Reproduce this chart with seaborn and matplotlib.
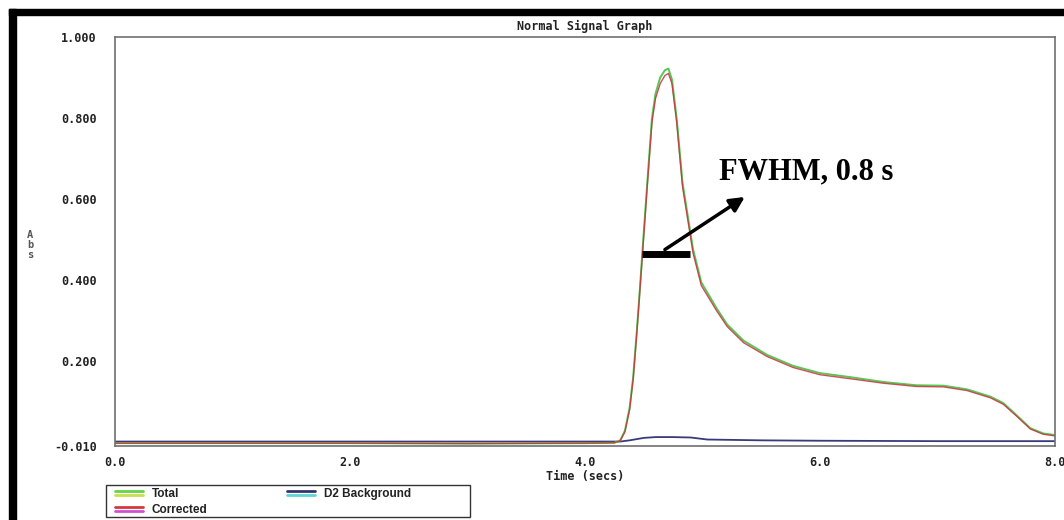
import matplotlib
matplotlib.use("Agg")
import matplotlib.pyplot as plt
from matplotlib.patches import Rectangle
from matplotlib.lines import Line2D
from matplotlib.legend_handler import HandlerBase
import seaborn as sns
import pandas as pd

# ---------------- data ----------------
time_s = [0.0, 1.0, 2.0, 3.0, 4.0, 4.25, 4.30, 4.34, 4.38, 4.41, 4.44, 4.47, 4.49,
          4.53, 4.57, 4.60, 4.64, 4.68, 4.71, 4.74, 4.78, 4.83, 4.92, 4.99, 5.12, 5.21,
          5.35, 5.55, 5.77, 6.00, 6.26, 6.54, 6.82, 7.05, 7.25, 7.45, 7.56, 7.68,
          7.79, 7.90, 8.00]
total = [-0.003, -0.003, -0.003, -0.004, -0.003, -0.002, 0.004, 0.028, 0.085, 0.160,
         0.270, 0.390, 0.475, 0.640, 0.800, 0.860, 0.900, 0.918, 0.922, 0.895, 0.800,
         0.640, 0.475, 0.394, 0.330, 0.290, 0.250, 0.215, 0.188, 0.170, 0.160,
         0.148, 0.140, 0.139, 0.130, 0.112, 0.096, 0.064, 0.034, 0.021, 0.017]
corrected = [-0.003, -0.003, -0.003, -0.004, -0.003, -0.002, 0.003, 0.025, 0.080, 0.155,
             0.265, 0.385, 0.468, 0.632, 0.790, 0.848, 0.885, 0.905, 0.910, 0.885, 0.790,
             0.630, 0.466, 0.386, 0.324, 0.285, 0.245, 0.211, 0.184, 0.166, 0.156,
             0.145, 0.137, 0.136, 0.127, 0.109, 0.093, 0.062, 0.032, 0.019, 0.015]
bg_time = [0.0, 2.0, 4.0, 4.30, 4.38, 4.50, 4.60, 4.75, 4.90, 5.04, 5.50, 6.00, 7.00, 8.00]
d2_background = [0.001, 0.001, 0.001, 0.001, 0.004, 0.010, 0.012, 0.012, 0.011, 0.006,
                 0.004, 0.003, 0.002, 0.002]

x_ticks = [0, 2, 4, 6, 8]
x_tick_labels = ["0.0", "2.0", "4.0", "6.0", "8.0"]
y_ticks = [-0.010, 0.2, 0.4, 0.6, 0.8, 1.0]
y_tick_labels = ["-0.010", "0.200", "0.400", "0.600", "0.800", "1.000"]

fwhm_level = 0.463
fwhm_start, fwhm_end = 4.485, 4.89

# ---------------- figure ----------------
sns.set_style("white")
plt.rcParams["font.family"] = ["DejaVu Sans Mono", "DejaVu Sans"]

W, H = 1064, 520
fig = plt.figure(figsize=(W / 100, H / 100), dpi=100)
fig.patch.set_facecolor("white")
ax = fig.add_axes([115 / W, 1 - 446 / H, 940 / W, 409 / H])

sig = pd.DataFrame({"t": time_s, "Total": total, "Corrected": corrected})
bg = pd.DataFrame({"t": bg_time, "D2": d2_background})

sns.lineplot(data=bg, x="t", y="D2", ax=ax, color="#3a3a7a", lw=1.3, legend=False)
sns.lineplot(data=sig, x="t", y="Total", ax=ax, color="#55c855", lw=1.4, legend=False)
sns.lineplot(data=sig, x="t", y="Corrected", ax=ax, color="#c8323c", lw=1.0,
             alpha=0.85, legend=False)

ax.set_xlim(0, 8)
ax.set_ylim(-0.010, 1.000)
ax.set_xticks(x_ticks)
ax.set_xticklabels(x_tick_labels)
ax.set_yticks(y_ticks)
ax.set_yticklabels(y_tick_labels)

for s in ax.spines.values():
    s.set_color("#707070")
    s.set_linewidth(1.2)
    s.set_visible(True)

ax.tick_params(axis="y", direction="out", length=5, width=1, color="#555555",
               pad=8, labelsize=8.5, labelcolor="#222222")
ax.tick_params(axis="x", direction="inout", length=8, width=1, color="#555555",
               pad=3, labelsize=8.5, labelcolor="#222222")
for lab in ax.get_xticklabels() + ax.get_yticklabels():
    lab.set_fontweight("bold")

ax.set_title("Normal Signal Graph", fontsize=8.5, fontweight="bold", pad=5,
             color="#222222")
ax.set_xlabel("Time (secs)", fontsize=8.5, fontweight="bold", labelpad=1,
              color="#222222")
ax.set_ylabel("")
fig.text(30 / W, 1 - 245 / H, "A\nb\ns", fontsize=7.5, fontweight="bold",
         color="#555555", ha="center", va="center", linespacing=1.0)

# FWHM marker, arrow and label
ax.hlines(fwhm_level, fwhm_start, fwhm_end, color="black", lw=5)
ax.annotate("", xy=(5.36, 0.605), xytext=(4.68, 0.475),
            arrowprops=dict(arrowstyle="-|>", color="black", lw=2.5,
                            mutation_scale=22, shrinkA=0, shrinkB=0))
ax.text(5.14, 0.648, "FWHM, 0.8 s", fontfamily="Liberation Serif",
        fontweight="bold", fontsize=22, color="black", va="baseline")

# legend with double-line samples
class DoubleHandle:
    def __init__(self, c1, c2):
        self.c1, self.c2 = c1, c2

class DoubleLineHandler(HandlerBase):
    def create_artists(self, legend, orig, xdescent, ydescent, width, height,
                       fontsize, trans):
        x0, x1 = -xdescent + 0.15 * width, width - xdescent
        l1 = Line2D([x0, x1], [0.70 * height] * 2, color=orig.c1, lw=2.0, transform=trans)
        l2 = Line2D([x0, x1], [0.22 * height] * 2, color=orig.c2, lw=2.0, transform=trans)
        return [l1, l2]

handles = [DoubleHandle("#66d24a", "#c8e04a"),
           DoubleHandle("#d43a3a", "#d050d0"),
           DoubleHandle("#33336e", "#5cd6d6")]
labels = ["Total", "Corrected", "D2 Background"]
leg = fig.legend(handles, labels, handler_map={DoubleHandle: DoubleLineHandler()},
                 loc="upper left", bbox_to_anchor=(110 / W, 1 - 488 / H),
                 ncol=2, frameon=False,
                 prop={"family": "Liberation Sans", "weight": "bold", "size": 8.5},
                 handlelength=2.8, handletextpad=0.75, borderpad=0,
                 labelspacing=0.3, borderaxespad=0, columnspacing=6.3)
for t in leg.get_texts():
    t.set_color("#222222")

# legend box
fig.patches.append(Rectangle((106 / W, 1 - 517 / H), 364 / W, 32 / H,
                             transform=fig.transFigure, facecolor="none",
                             edgecolor="#333333", lw=1.0, zorder=5))

# black photo frame (top and left edges)
fig.patches.append(Rectangle((9 / W, 1 - 15 / H), 1 - 9 / W, 6 / H,
                             transform=fig.transFigure, color="black", zorder=10))
fig.patches.append(Rectangle((9 / W, 0), 7 / W, 1 - 9 / H,
                             transform=fig.transFigure, color="black", zorder=10))

fig.savefig("out.png", dpi=100, facecolor="white")
